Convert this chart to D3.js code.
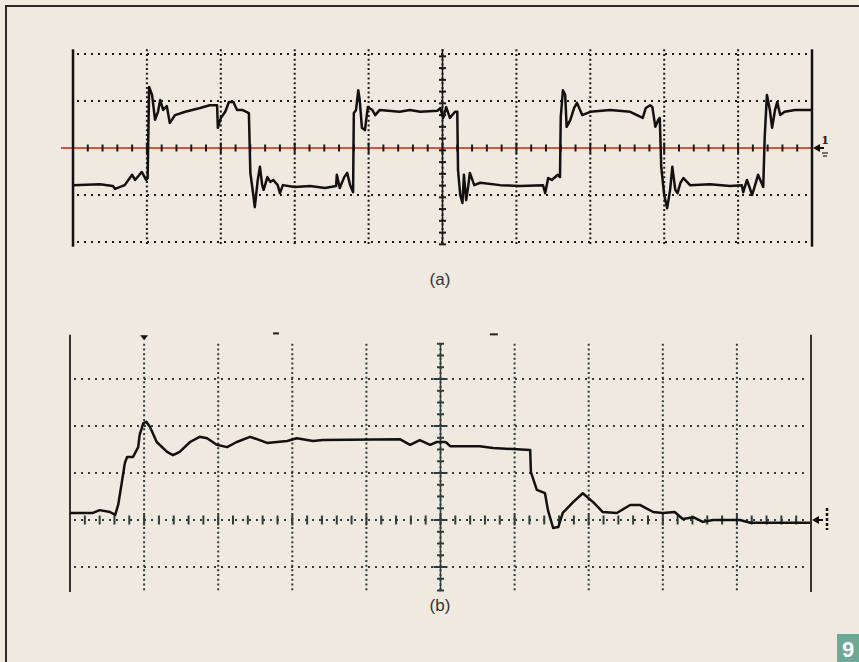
<!DOCTYPE html>
<html><head><meta charset="utf-8">
<script src="https://cdn.jsdelivr.net/npm/d3@7"></script>
<style>
html,body{margin:0;padding:0;background:#f0e9df;}
svg{display:block;}
</style></head>
<body>
<svg id="c" width="859" height="662"></svg>
<script>
// ---- Data (time in % of screen width, amplitude in divisions) ----
const timeA = [0,3.65,5.4,5.7,7.0,8.0,8.4,9.3,9.9,10.1,10.3,10.7,11.1,11.5,11.8,12.2,12.7,13.1,13.8,15.2,17.2,18.5,19.5,19.6,20.0,20.6,21.1,21.7,22.2,22.9,23.8,24.0,24.4,24.6,25.0,25.3,25.6,25.8,26.3,26.7,27.1,27.7,28.0,28.4,30.0,32.1,34.1,35.6,35.7,36.1,36.7,37.1,37.5,37.9,38.0,38.3,38.6,38.8,39.1,39.5,39.9,40.5,40.9,41.5,44.2,45.6,47.0,49.3,49.7,50.1,50.5,51.0,51.7,52.0,52.1,52.4,52.7,52.9,53.2,53.5,53.7,54.3,55.1,57.8,60.5,63.6,63.9,64.3,64.8,65.6,65.9,66.0,66.3,66.6,66.8,67.3,67.8,68.2,68.9,70.0,72.7,75.4,77.1,77.5,78.1,78.4,78.8,79.2,79.4,79.6,80.0,80.4,80.8,81.1,81.5,81.8,82.2,82.6,83.5,86.2,88.9,90.5,90.7,91.2,91.9,92.3,92.7,93.4,93.6,93.9,94.3,94.6,95.0,95.3,95.7,96.3,97.7,100];
const voltA = [-0.79,-0.77,-0.81,-0.87,-0.79,-0.57,-0.68,-0.51,-0.68,-0.64,1.30,1.13,0.60,0.77,1.02,0.81,0.89,0.53,0.70,0.77,0.85,0.91,0.91,0.43,0.64,0.77,0.98,0.98,0.81,0.81,0.74,-0.53,-1.00,-1.26,-0.68,-0.40,-0.79,-0.89,-0.62,-0.72,-0.68,-0.79,-0.96,-0.79,-0.83,-0.81,-0.85,-0.81,-0.57,-0.85,-0.62,-0.53,-0.79,-0.94,0.74,0.81,1.23,1.02,0.43,0.38,0.87,0.81,0.70,0.81,0.77,0.81,0.77,0.79,0.85,0.64,0.87,0.64,0.77,0.77,-0.47,-1.00,-1.17,-0.57,-1.11,-0.79,-0.53,-0.79,-0.74,-0.79,-0.81,-0.79,-0.96,-0.64,-0.68,-0.57,-0.62,0.66,1.23,1.13,0.45,0.60,0.85,0.96,0.70,0.77,0.81,0.77,0.64,0.85,0.91,0.87,0.45,0.60,0.64,-0.40,-1.00,-1.28,-0.89,-0.40,-0.89,-0.96,-0.74,-0.64,-0.79,-0.77,-0.81,-0.79,-0.94,-0.68,-1.00,-0.79,-0.57,-0.83,0.23,1.13,0.81,0.43,0.81,0.98,0.70,0.77,0.81,0.81];

const timeB = [0,3.1,4.0,5.4,6.1,6.5,7.0,7.4,7.7,8.5,9.2,9.4,9.9,10.3,10.8,11.7,13.1,13.9,14.8,16.2,17.5,18.5,19.8,21.2,22.5,24.3,25.6,26.6,29.3,30.6,32.8,34.1,44.5,45.9,47.2,48.6,49.5,50.7,51.3,55.3,57.1,62.1,62.2,63.0,64.1,64.5,65.2,65.9,66.5,67.9,69.2,70.6,71.9,73.8,75.6,76.9,78.7,80.0,81.6,82.7,84.1,85.4,86.8,90.4,91.8,99.9];
const voltB = [0.15,0.15,0.21,0.17,0.11,0.32,0.81,1.21,1.34,1.34,1.55,1.81,2.06,2.09,1.98,1.66,1.45,1.38,1.45,1.66,1.77,1.74,1.60,1.55,1.66,1.77,1.70,1.64,1.68,1.74,1.68,1.70,1.72,1.60,1.70,1.60,1.66,1.66,1.57,1.57,1.53,1.49,1.02,0.64,0.57,0.21,-0.17,-0.15,0.15,0.38,0.57,0.38,0.17,0.15,0.32,0.32,0.17,0.15,0.17,0.02,0.06,-0.04,0,0,-0.06,-0.06];

const gridTimes = [0,10,20,30,40,50,60,70,80,90,100];
const gridVoltsA = [-2,-1,0,1,2];
const gridVoltsB = [-1,0,1,2,3];
const captions = ["(a)", "(b)"];
const figureNumber = "9";

// ---- Drawing ----
const svg = d3.select("#c");
svg.append("rect").attr("width",859).attr("height",662).attr("fill","#f0e9df");
// outer frame (top & left)
svg.append("path").attr("d","M6,662 V6 H859").attr("fill","none").attr("stroke","#2a2a2a").attr("stroke-width",2);

function panel(cfg){
  const g = svg.append("g");
  const x = d3.scaleLinear().domain([0,100]).range(cfg.xr);
  const y = d3.scaleLinear().domain(cfg.vd).range(cfg.yr);
  const col = cfg.gridColor;
  const yTop = y(cfg.vExt[1]), yBot = y(cfg.vExt[0]);
  // vertical dotted grid lines
  gridTimes.filter(t=>t>0&&t<100).forEach(t=>{
    g.append("line").attr("x1",x(t)).attr("x2",x(t)).attr("y1",y(cfg.vLine[1])).attr("y2",y(cfg.vLine[0]))
      .attr("stroke",col).attr("stroke-width",2).attr("stroke-dasharray","2,2.7");
  });
  // horizontal dotted grid lines
  cfg.gridV.forEach(v=>{
    if (v===0 && cfg.redZero) return;
    g.append("line").attr("x1",x(0)+4).attr("x2",x(100)-4).attr("y1",y(v)).attr("y2",y(v))
      .attr("stroke",col).attr("stroke-width",2).attr("stroke-dasharray","2,5");
  });
  // zero line
  if (cfg.redZero){
    g.append("line").attr("x1",x(0)-12).attr("x2",x(100)).attr("y1",y(0)).attr("y2",y(0))
      .attr("stroke","#d2553e").attr("stroke-width",1.8);
  }
  // ticks on zero line
  d3.range(0,100.01,2).forEach(t=>{
    const major = Math.abs(t/10-Math.round(t/10))<1e-6;
    const h = major?5.5:cfg.zeroTick;
    g.append("line").attr("x1",x(t)).attr("x2",x(t)).attr("y1",y(0)-h).attr("y2",y(0)+h)
      .attr("stroke",col).attr("stroke-width",2);
  });
  // centre vertical axis with crosses
  g.append("line").attr("x1",x(50)).attr("x2",x(50)).attr("y1",y(cfg.vLine[1])).attr("y2",y(cfg.vLine[0]))
    .attr("stroke",col).attr("stroke-width",1.5);
  d3.range(cfg.vLine[0], cfg.vLine[1]+0.001, 0.25).forEach(v=>{
    const major = Math.abs(v-Math.round(v))<1e-6;
    const w = major?7:3.5;
    g.append("line").attr("x1",x(50)-w).attr("x2",x(50)+w).attr("y1",y(v)).attr("y2",y(v))
      .attr("stroke",col).attr("stroke-width",2);
  });
  // borders
  [0,100].forEach(t=>{
    g.append("line").attr("x1",x(t)).attr("x2",x(t)).attr("y1",yTop).attr("y2",yBot)
      .attr("stroke",cfg.borderColor).attr("stroke-width",cfg.borderW);
  });
  // trace
  const pts = cfg.t.map((t,i)=>[t,cfg.v[i]]);
  g.append("path").datum(pts)
    .attr("d",d3.line().x(d=>x(d[0])).y(d=>y(d[1])))
    .attr("fill","none").attr("stroke","#111").attr("stroke-width",2.5).attr("stroke-linejoin","round");
  return {x,y,g};
}

const A = panel({xr:[73,812], vd:[-2,2], yr:[242,54], vExt:[-2.1,2.1], vLine:[-2.05,2.1],
  gridV:gridVoltsA, gridColor:"#1a1a1a", borderColor:"#111", borderW:2.5, redZero:true, zeroTick:3.5, t:timeA, v:voltA});
const B = panel({xr:[70,811], vd:[-1,3], yr:[567,379], vExt:[-1.53,3.94], vLine:[-1.5,3.75],
  gridV:gridVoltsB, gridColor:"#2c3d3d", borderColor:"#333", borderW:2, redZero:false, zeroTick:4.5, t:timeB, v:voltB});

// channel markers on the right
function chMarker(p, yv, label){
  const x0 = p.x(100), y0 = p.y(yv);
  svg.append("path").attr("d",`M${x0+1},${y0} l7,-4 v8 z`).attr("fill","#111");
  svg.append("line").attr("x1",x0+6).attr("x2",x0+12).attr("y1",y0).attr("y2",y0).attr("stroke","#111").attr("stroke-width",2);
  if (label){
    svg.append("text").attr("x",x0+13).attr("y",y0-4).attr("font-family","DejaVu Serif").attr("font-size",11)
      .attr("font-weight","bold").attr("fill","#222").attr("text-anchor","middle").text(label);
    svg.append("line").attr("x1",x0+10).attr("x2",x0+16).attr("y1",y0+5).attr("y2",y0+5).attr("stroke","#222").attr("stroke-width",1.2);
    svg.append("line").attr("x1",x0+11).attr("x2",x0+15).attr("y1",y0+8).attr("y2",y0+8).attr("stroke","#222").attr("stroke-width",1.2);
  } else {
    svg.append("line").attr("x1",x0+16).attr("x2",x0+16).attr("y1",y0-12).attr("y2",y0+10)
      .attr("stroke","#111").attr("stroke-width",2.5).attr("stroke-dasharray","3,2");
  }
}
chMarker(A, 0, "1");
chMarker(B, 0, null);

// trigger / cursor markers on top of panel (b)
svg.append("path").attr("d",`M${B.x(10)-4},${B.y(3.93)} h8 l-4,5 z`).attr("fill","#111");
svg.append("line").attr("x1",B.x(27.8)-3).attr("x2",B.x(27.8)+3).attr("y1",B.y(3.97)).attr("y2",B.y(3.97)).attr("stroke","#222").attr("stroke-width",2);
svg.append("line").attr("x1",B.x(57.2)-4).attr("x2",B.x(57.2)+4).attr("y1",B.y(3.95)).attr("y2",B.y(3.95)).attr("stroke","#222").attr("stroke-width",2);

// captions
svg.append("text").attr("x",440).attr("y",285).attr("text-anchor","middle")
  .attr("font-family","Liberation Sans, Arial, sans-serif").attr("font-size",17).attr("fill","#333").text(captions[0]);
svg.append("text").attr("x",440).attr("y",611).attr("text-anchor","middle")
  .attr("font-family","Liberation Sans, Arial, sans-serif").attr("font-size",17).attr("fill","#333").text(captions[1]);

// figure number badge
svg.append("rect").attr("x",837).attr("y",634).attr("width",22).attr("height",28).attr("fill","#6ea896");
svg.append("text").attr("x",848).attr("y",657).attr("text-anchor","middle")
  .attr("font-family","Liberation Sans, Arial, sans-serif").attr("font-weight","bold").attr("font-size",22).attr("fill","#fff").text(figureNumber);
</script>
</body></html>
